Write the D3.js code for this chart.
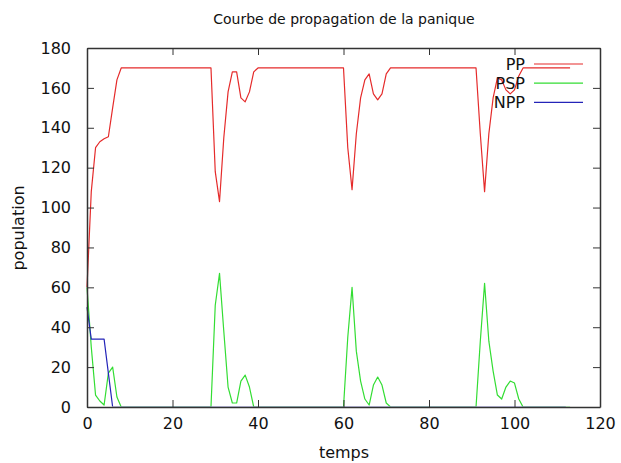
<!DOCTYPE html>
<html>
<head>
<meta charset="utf-8">
<script src="https://cdn.jsdelivr.net/npm/d3@7"></script>
<style>
    body { margin: 0; background: #fff; }
    text { font-family: "DejaVu Sans", sans-serif; fill: #111; }
    .axis path, .axis line { stroke: #333; }
</style>
</head>
<body>
<div id="chart"></div>
<script>

// Valeurs, un point par pas de temps (t = 0..113)
var seriesNames = ["PP", "PSP", "NPP"];
var seriesColors = ["#e52b2b", "#33dd33", "#2424b8"];

var ppValues = [
    60, 108, 130, 133, 134.5, 135.5, 150, 164,
    170, 170, 170, 170, 170, 170, 170, 170, 170, 170, 170, 170, 170, 170, 170, 170, 170, 170, 170, 170, 170,
    170, 118, 103, 135, 158, 168, 168, 155, 153, 158, 168,
    170, 170, 170, 170, 170, 170, 170, 170, 170, 170, 170, 170, 170, 170, 170, 170, 170, 170, 170, 170, 170,
    130, 109, 137, 155, 164, 167, 157, 154, 157, 167,
    170, 170, 170, 170, 170, 170, 170, 170, 170, 170, 170, 170, 170, 170, 170, 170, 170, 170, 170, 170, 170,
    137, 108, 137, 155, 165, 164, 159, 157, 159, 166,
    170, 170, 170, 170, 170, 170, 170, 170, 170, 170, 170, 170
];

var pspValues = [
    60, 30, 6, 3, 1, 17, 20, 5,
    0, 0, 0, 0, 0, 0, 0, 0, 0, 0, 0, 0, 0, 0, 0, 0, 0, 0, 0, 0, 0,
    0, 51, 67, 38, 10, 2, 2, 13, 16, 10,
    0, 0, 0, 0, 0, 0, 0, 0, 0, 0, 0, 0, 0, 0, 0, 0, 0, 0, 0, 0, 0, 0,
    35, 60, 28, 13, 4, 1, 11, 15, 11, 2,
    0, 0, 0, 0, 0, 0, 0, 0, 0, 0, 0, 0, 0, 0, 0, 0, 0, 0, 0, 0, 0,
    33, 62, 33, 18, 6, 4, 10, 13, 12, 4,
    0, 0, 0, 0, 0, 0, 0, 0, 0, 0, 0, 0
];

var nppValues = [
    50, 34, 34, 34, 34, 17, 0,
    0, 0, 0, 0, 0, 0, 0, 0, 0, 0, 0, 0, 0, 0, 0, 0, 0, 0, 0, 0, 0, 0, 0, 0,
    0, 0, 0, 0, 0, 0, 0, 0, 0, 0, 0, 0, 0, 0, 0, 0, 0, 0, 0, 0, 0, 0, 0, 0,
    0, 0, 0, 0, 0, 0, 0, 0, 0, 0, 0, 0, 0, 0, 0, 0, 0, 0, 0, 0, 0, 0, 0, 0,
    0, 0, 0, 0, 0, 0, 0, 0, 0, 0, 0, 0, 0, 0, 0, 0, 0, 0, 0, 0, 0, 0, 0, 0,
    0, 0, 0, 0, 0, 0, 0, 0, 0, 0
];

var xTicks = [0, 20, 40, 60, 80, 100, 120];
var yTicks = [0, 20, 40, 60, 80, 100, 120, 140, 160, 180];


LineChart = function(_parentElement) {
    this.parentElement = _parentElement;
    this.data = [ppValues, pspValues, nppValues];

    this.initVis();
};

LineChart.prototype.initVis = function() {
    var vis = this;

    vis.margin = {top: 48, right: 21, bottom: 56, left: 87};
    vis.width = 621 - vis.margin.left - vis.margin.right;
    vis.height = 463 - vis.margin.top - vis.margin.bottom;

    vis.x = d3.scaleLinear()
        .domain([0, 120])
        .range([0, vis.width]);

    vis.y = d3.scaleLinear()
        .domain([0, 180])
        .range([vis.height, 0]);

    vis.svg = d3.select(vis.parentElement)
        .append("svg")
        .attr("width", 621)
        .attr("height", 463);

    // les courbes a 0 restent cachees sous l'axe du bas
    vis.svg.append("defs").append("clipPath")
        .attr("id", "zone")
        .append("rect")
        .attr("x", -2)
        .attr("y", -2)
        .attr("width", vis.width + 4)
        .attr("height", vis.height + 1.4);

    vis.chart = vis.svg.append("g")
        .attr("transform", "translate(" + vis.margin.left + "," + vis.margin.top + ")");

    vis.wrangleData();
};

LineChart.prototype.wrangleData = function() {
    var vis = this;

    vis.series = vis.data.map(function(values, i) {
        return {
            name: seriesNames[i],
            color: seriesColors[i],
            points: values.map(function(v, t) { return {t: t, v: v}; })
        };
    });

    vis.updateVis();
};

LineChart.prototype.updateVis = function() {
    var vis = this;

    var line = d3.line()
        .x(function(d) { return vis.x(d.t); })
        .y(function(d) { return vis.y(d.v); });

    // courbes
    vis.chart.append("g")
        .attr("clip-path", "url(#zone)")
        .selectAll(".serie")
        .data(vis.series)
        .enter().append("path")
        .attr("class", "serie")
        .attr("fill", "none")
        .attr("stroke", function(d) { return d.color; })
        .attr("stroke-width", 1.2)
        .attr("stroke-linejoin", "round")
        .attr("d", function(d) { return line(d.points); });

    // axes par-dessus les courbes, ticks vers l'interieur et repetes en haut / a droite
    vis.chart.append("g")
        .attr("class", "axis")
        .attr("transform", "translate(0," + vis.height + ")")
        .call(d3.axisBottom(vis.x).tickValues(xTicks).tickSizeInner(-7).tickSizeOuter(0).tickPadding(11));

    vis.chart.append("g")
        .attr("class", "axis")
        .call(d3.axisTop(vis.x).tickValues(xTicks).tickSizeInner(-7).tickSizeOuter(0).tickFormat(""));

    vis.chart.append("g")
        .attr("class", "axis")
        .call(d3.axisLeft(vis.y).tickValues(yTicks).tickSizeInner(-7).tickSizeOuter(0).tickPadding(16));

    vis.chart.append("g")
        .attr("class", "axis")
        .attr("transform", "translate(" + vis.width + ",0)")
        .call(d3.axisRight(vis.y).tickValues(yTicks).tickSizeInner(-7).tickSizeOuter(0).tickFormat(""));

    vis.chart.selectAll(".axis text")
        .style("font-size", "16px")
        .style("font-family", "DejaVu Sans, sans-serif");

    vis.chart.selectAll(".axis path").attr("stroke-width", 1.5);

    // legende
    var legend = vis.chart.selectAll(".legend")
        .data(vis.series)
        .enter().append("g")
        .attr("class", "legend")
        .attr("transform", function(d, i) { return "translate(0," + (16 + i * 19.2) + ")"; });

    legend.append("text")
        .attr("x", 438)
        .attr("dy", "0.35em")
        .style("text-anchor", "end")
        .style("font-size", "16px")
        .text(function(d) { return d.name; });

    legend.append("line")
        .attr("x1", 447)
        .attr("x2", 496)
        .attr("stroke", function(d) { return d.color; })
        .attr("stroke-width", 1.2);

    // titres
    vis.svg.append("text")
        .attr("x", 344)
        .attr("y", 24)
        .style("text-anchor", "middle")
        .style("font-size", "14px")
        .text("Courbe de propagation de la panique");

    vis.svg.append("text")
        .attr("x", 344)
        .attr("y", 458)
        .style("text-anchor", "middle")
        .style("font-size", "16px")
        .text("temps");

    vis.svg.append("text")
        .attr("transform", "translate(24," + 228 + ") rotate(-90)")
        .style("text-anchor", "middle")
        .style("font-size", "16px")
        .text("population");
};

new LineChart("#chart");
</script>
</body>
</html>
